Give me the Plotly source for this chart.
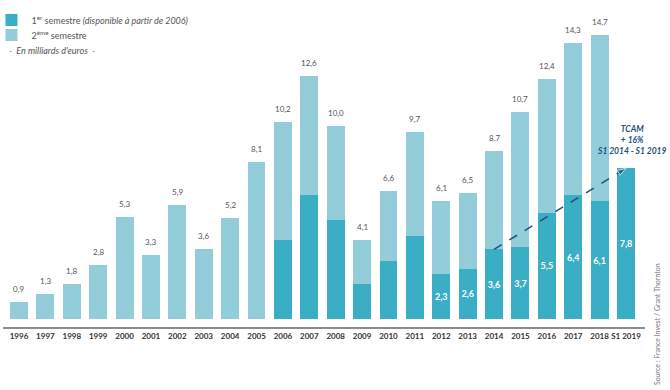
import plotly.graph_objects as go

categories = ['1996', '1997', '1998', '1999', '2000', '2001', '2002', '2003', '2004', '2005',
              '2006', '2007', '2008', '2009', '2010', '2011', '2012', '2013', '2014', '2015',
              '2016', '2017', '2018', 'S1 2019']
totals = [0.9, 1.3, 1.8, 2.8, 5.3, 3.3, 5.9, 3.6, 5.2, 8.1,
          10.2, 12.6, 10.0, 4.1, 6.6, 9.7, 6.1, 6.5, 8.7, 10.7,
          12.4, 14.3, 14.7, None]
s1 = [None] * 10 + [4.1, 6.4, 5.1, 1.8, 3.0, 4.3, 2.3, 2.6, 3.6, 3.7, 5.5, 6.4, 6.1, 7.8]
s1_labelled = ['2012', '2013', '2014', '2015', '2016', '2017', '2018', 'S1 2019']
tcam_from, tcam_to = '2014', 'S1 2019'

def fmt(v):
    return f"{v:.1f}".replace('.', ',')

s2 = []
for t, a in zip(totals, s1):
    if t is None:
        s2.append(None)
    elif a is None:
        s2.append(t)
    else:
        s2.append(round(t - a, 2))

s1_text = [fmt(v) if (v is not None and c in s1_labelled) else '' for c, v in zip(categories, s1)]

DARK = '#3AAEC5'
LIGHT = '#93CDDA'
NAVY = '#24507E'
FONT = 'Lato, DejaVu Sans, sans-serif'

fig = go.Figure()
fig.add_trace(go.Bar(
    x=categories, y=s1, name='1<sup>er</sup> semestre <i>(disponible à partir de 2006)</i>',
    marker=dict(color=DARK, line=dict(width=0)), legend='legend',
    text=s1_text, textposition='inside', insidetextanchor='middle', constraintext='none',
    textangle=0,
    textfont=dict(color='white', size=9, family=FONT, weight='bold'),
    hoverinfo='skip'))
fig.add_trace(go.Bar(
    x=categories, y=s2, name='2<sup>ème</sup> semestre', legend='legend2',
    marker=dict(color=LIGHT, line=dict(width=0)),
    hoverinfo='skip'))

# total labels above each bar (category index used as x position on the category axis)
for i, t in enumerate(totals):
    if t is not None:
        fig.add_annotation(x=i, y=t, xref='x', yref='y', yanchor='bottom', yshift=6,
                           text=fmt(t), showarrow=False,
                           font=dict(size=8, color='#555555', family=FONT))

i0, i1 = categories.index(tcam_from), categories.index(tcam_to)
fig.add_trace(go.Scatter(
    x=[tcam_from, tcam_to], y=[s1[i0], s1[i1]], mode='lines+markers',
    line=dict(color=NAVY, width=1.5, dash='dash'),
    marker=dict(symbol=['circle', 'arrow'], size=[6, 9], color=NAVY, angleref='previous'),
    showlegend=False, hoverinfo='skip'))

fig.add_annotation(x=i1, y=s1[i1], xref='x', yref='y', yanchor='bottom', yshift=10, xshift=6,
                   text='<b><i>TCAM<br>+ 16%<br>S1 2014 - S1 2019</i></b>', showarrow=False,
                   align='center', font=dict(size=8.5, color=NAVY, family=FONT))
fig.add_annotation(xref='paper', yref='paper', x=0.0, xshift=4, y=1.0, xanchor='left', yanchor='top',
                   yshift=-23,
                   text='<i>-  En milliards d\'euros  -</i>', showarrow=False,
                   font=dict(size=9, color='#555555', family=FONT))
fig.add_annotation(xref='paper', yref='paper', x=1.0, xshift=12, y=0.0, yshift=-60,
                   xanchor='center', yanchor='bottom',
                   text='Source : France Invest / Grant Thornton', textangle=-90, showarrow=False,
                   font=dict(size=7, color='#777777', family=FONT))

legend_common = dict(xanchor='left', yanchor='middle', x=-0.018,
                     font=dict(size=9, color='#555555', family=FONT),
                     itemwidth=30, bgcolor='rgba(0,0,0,0)')

fig.update_layout(
    width=670, height=390, barmode='stack', bargap=0.32,
    margin=dict(l=3, r=25, t=20, b=63, autoexpand=False),
    paper_bgcolor='white', plot_bgcolor='white',
    font=dict(family=FONT, color='#555555'),
    legend=dict(y=1.0, **legend_common),
    legend2=dict(y=0.951, **legend_common),
    xaxis=dict(type='category', range=[-0.606, 23.72], showgrid=False, zeroline=False,
               showline=True, linecolor='#8c8c8c', linewidth=2, ticks='', tickangle=0,
               tickfont=dict(size=8, color='#333333', family=FONT, weight='bold')),
    yaxis=dict(range=[-0.42, 15.48], visible=False, showgrid=False, zeroline=False),
)
fig.write_html('out.html', config={'displayModeBar': False},
               post_script="document.body.style.margin='0';")
